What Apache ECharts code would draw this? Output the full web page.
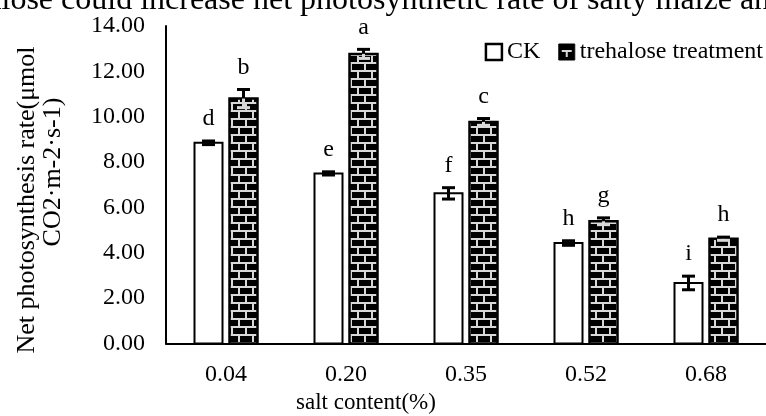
<!DOCTYPE html>
<html>
<head>
<meta charset="utf-8">
<script src="https://cdn.jsdelivr.net/npm/echarts@6/dist/echarts.min.js"></script>
<style>html,body{margin:0;padding:0;background:#fff;}#c{width:766px;height:416px;}</style>
</head>
<body>
<div id="c"></div>
<script>
const categories = ['0.04', '0.20', '0.35', '0.52', '0.68'];
const ckValues = [8.85, 7.50, 6.62, 4.43, 2.67];
const ckErrors = [0.08, 0.07, 0.25, 0.10, 0.30];
const ckLetters = ['d', 'e', 'f', 'h', 'i'];
const treValues = [10.80, 12.77, 9.77, 5.39, 4.62];
const treErrors = [0.40, 0.20, 0.15, 0.15, 0.07];
const treLetters = ['b', 'a', 'c', 'g', 'h'];
const yMin = 0, yMax = 14, yStep = 2;
const seriesNames = ['CK', 'trehalose treatment'];
const xTitle = 'salt content(%)';
const yTitle1 = 'Net photosynthesis rate(\u03bcmol';
const yTitle2 = 'CO2\u00b7m-2\u00b7s-1)';
const topTitle = 'Trehalose could increase net photosynthetic rate of salty maize and';

const FONT = '"Liberation Serif", "Times New Roman", serif';

// brick pattern
const pc = document.createElement('canvas');
pc.width = 14; pc.height = 16;
const g = pc.getContext('2d');
g.fillStyle = '#000'; g.fillRect(0, 0, 14, 16);
g.fillStyle = '#d8d8d8';
g.fillRect(0, 6, 14, 2);
g.fillRect(0, 14, 14, 2);
g.fillRect(0, 0, 2, 6);
g.fillRect(7, 8, 2, 6);
const brick = { image: pc, repeat: 'repeat' };

// legend icon pattern (small H-shaped brick)
const lc = document.createElement('canvas');
lc.width = 16; lc.height = 16;
const lg = lc.getContext('2d');
lg.fillStyle = '#000'; lg.fillRect(0, 0, 16, 16);
lg.fillStyle = '#d8d8d8';
lg.fillRect(3, 6, 10, 2);
lg.fillRect(7, 8, 2, 5);
const legendBrick = { image: lc, repeat: 'no-repeat' };

const barW = 28;
const half = 17.5;

function makeRender(values, errors, letters, offset, isPattern) {
  return function (params, api) {
    const i = api.value(0);
    const v = values[i];
    const e = errors[i];
    const base = api.coord([i, 0]);
    const top = api.coord([i, v]);
    const cx = base[0] + offset;
    const yHi = api.coord([i, v + e])[1];
    const yLo = api.coord([i, v - e])[1];
    const capW = 13;
    const children = [];
    children.push({
      type: 'rect',
      shape: { x: cx - barW / 2, y: top[1], width: barW, height: base[1] - top[1] },
      style: { fill: isPattern ? brick : '#fff', stroke: '#000', lineWidth: isPattern ? 2.5 : 2 }
    });
    const inner = isPattern ? '#d8d8d8' : '#000';
    children.push({ type: 'line', shape: { x1: cx, y1: yHi, x2: cx, y2: top[1] }, style: { stroke: '#000', lineWidth: 3 } });
    children.push({ type: 'line', shape: { x1: cx, y1: top[1], x2: cx, y2: yLo }, style: { stroke: inner, lineWidth: 3 } });
    children.push({ type: 'line', shape: { x1: cx - capW / 2, y1: yHi, x2: cx + capW / 2, y2: yHi }, style: { stroke: '#000', lineWidth: 3 } });
    children.push({ type: 'line', shape: { x1: cx - capW / 2, y1: yLo, x2: cx + capW / 2, y2: yLo }, style: { stroke: inner, lineWidth: 3 } });
    children.push({
      type: 'text',
      style: { text: letters[i], x: cx, y: yHi - 22, align: 'center', verticalAlign: 'middle', font: '24px ' + FONT, fill: '#000' }
    });
    return { type: 'group', children: children };
  };
}

const chart = echarts.init(document.getElementById('c'), null, { renderer: 'canvas' });
chart.setOption({
  animation: false,
  backgroundColor: '#fff',
  grid: { left: 166, right: -8, top: 26, bottom: 72.5, containLabel: false },
  legend: {
    top: 35, right: 0, padding: [5, 3, 5, 0],
    orient: 'horizontal', width: 320,
    icon: 'rect', itemWidth: 16, itemHeight: 16, itemGap: 18,
    textStyle: { fontFamily: FONT, fontSize: 24, color: '#000' },
    data: [
      { name: seriesNames[0], itemStyle: { color: '#fff', borderColor: '#000', borderWidth: 2.5 } },
      { name: seriesNames[1], itemStyle: { color: legendBrick, borderColor: '#000', borderWidth: 1 } }
    ]
  },
  xAxis: {
    type: 'category', data: categories,
    axisLine: { lineStyle: { color: '#000', width: 2 } },
    axisTick: { show: false },
    axisLabel: { color: '#000', fontFamily: FONT, fontSize: 24, margin: 19 },
    splitLine: { show: false }
  },
  yAxis: {
    type: 'value', min: yMin, max: yMax, interval: yStep,
    axisLine: { show: true, lineStyle: { color: '#000', width: 2 } },
    axisTick: { show: false },
    splitLine: { show: false },
    axisLabel: { color: '#000', fontFamily: FONT, fontSize: 24, margin: 21, formatter: v => v.toFixed(2) }
  },
  graphic: [
    { type: 'text', x: -72, y: 1, style: { text: topTitle, font: '32px ' + FONT, fill: '#000', verticalAlign: 'middle' } },
    { type: 'text', x: 366, y: 403, style: { text: xTitle, font: '23px ' + FONT, fill: '#000', align: 'center', verticalAlign: 'middle' } },
    { type: 'text', x: 27, y: 200, rotation: Math.PI / 2, style: { text: yTitle1, font: '26px ' + FONT, fill: '#000', align: 'center', verticalAlign: 'middle' } },
    { type: 'text', x: 53, y: 172, rotation: Math.PI / 2, style: { text: yTitle2, font: '26px ' + FONT, fill: '#000', align: 'center', verticalAlign: 'middle' } }
  ],
  series: [
    { name: seriesNames[0], type: 'custom', clip: false, renderItem: makeRender(ckValues, ckErrors, ckLetters, -half, false),
      data: categories.map((c, i) => [i, ckValues[i]]), itemStyle: { color: '#fff', borderColor: '#000' } },
    { name: seriesNames[1], type: 'custom', clip: false, renderItem: makeRender(treValues, treErrors, treLetters, half, true),
      data: categories.map((c, i) => [i, treValues[i]]), itemStyle: { color: '#000' } }
  ]
});
</script>
</body>
</html>
